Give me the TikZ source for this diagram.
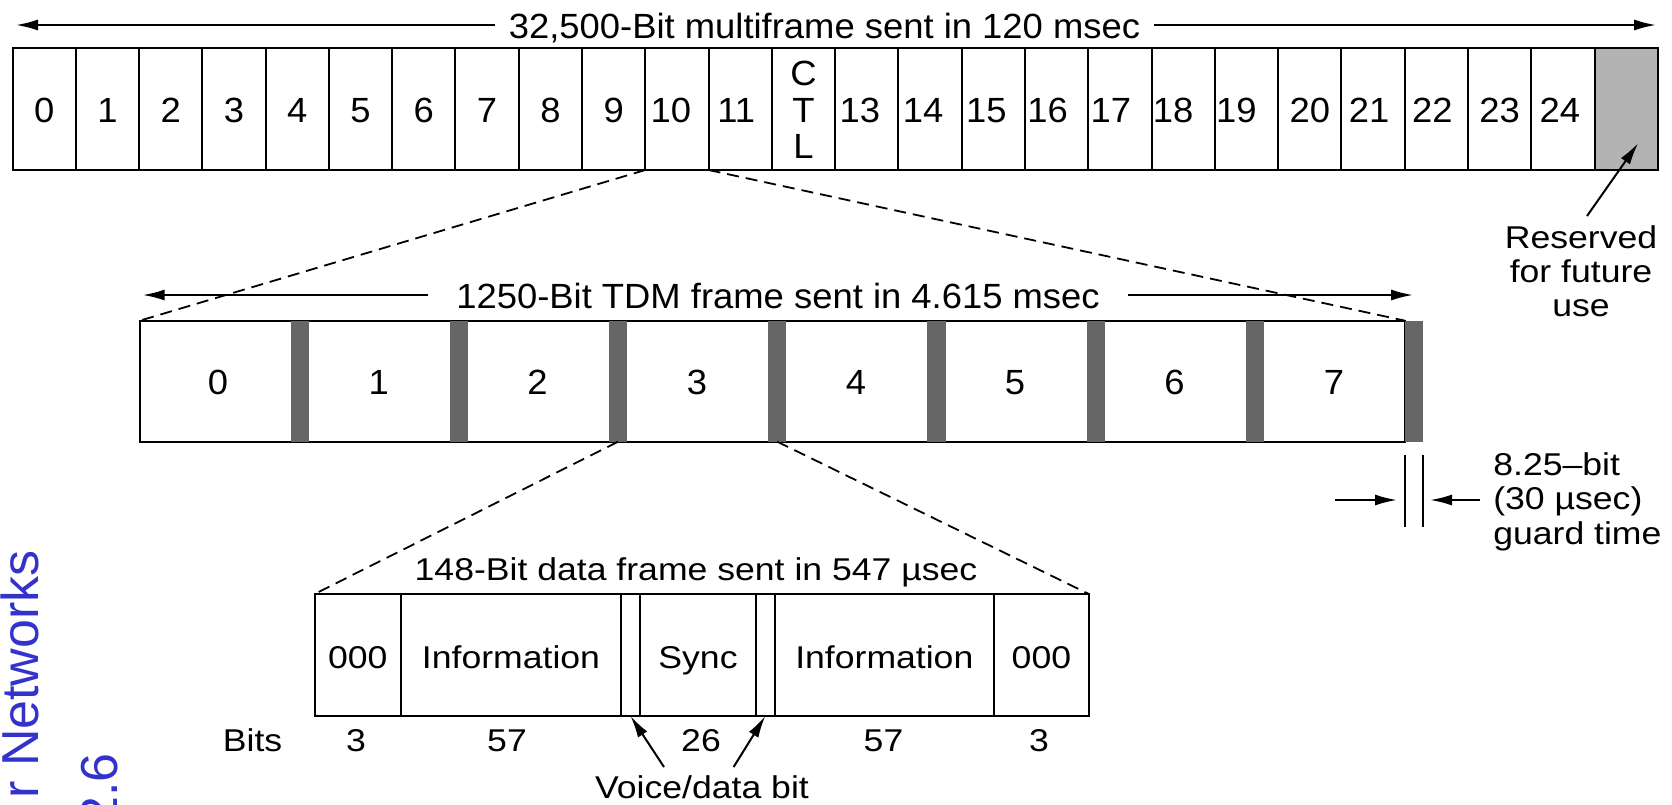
\documentclass[tikz,border=0pt]{standalone}
\usepackage{fontspec}
\setmainfont{Liberation Sans}[FakeStretch=1.04]
\newfontfamily\fontB{Liberation Sans}[FakeStretch=1.13,Ligatures=TeX]
\newfontfamily\bluefont{Liberation Sans}
\usetikzlibrary{arrows.meta,calc}
\definecolor{resgray}{HTML}{B3B3B3}
\definecolor{bargray}{HTML}{666666}
\definecolor{slideblue}{HTML}{3333CC}
\begin{document}
\begin{tikzpicture}[x=1pt,y=-1pt,
  lbl/.style={font=\fontsize{35}{38}\selectfont, inner sep=0pt, outer sep=0pt, anchor=base},
  lblb/.style={font=\fontB\fontsize{31.5}{34}\selectfont, inner sep=0pt, outer sep=0pt, anchor=base},
  cell/.style={draw, line width=2pt, minimum width=63.28pt, minimum height=121.7pt, inner sep=0pt, outer sep=0pt, anchor=north west},
  bcell/.style={draw, line width=2pt, minimum height=122pt, inner sep=0pt, outer sep=0pt, anchor=north west},
  gbar/.style={fill=bargray, minimum width=18.3pt, minimum height=121pt, inner sep=0pt, outer sep=0pt, anchor=north west},
  arr/.style={line width=2pt, -{Latex[length=22pt,width=11pt]}},
  dashline/.style={line width=1.8pt, dash pattern=on 12pt off 7pt},
  blue/.style={rotate=90, anchor=base east, font=\bluefont\fontsize{52}{56}\selectfont, text=slideblue, inner sep=0pt}
]
\useasboundingbox (0,0) rectangle (1672,804);
\fill[white] (0,0) rectangle (1672,804);

% ---------- top multiframe ----------
\foreach \i in {0,...,24}
  \node[cell] (c\i) at ({12.5+\i*63.28},48.3) {};
\node[cell, fill=resgray] (c25) at ({12.5+25*63.28},48.3) {};
\foreach \i/\dx in {0/0,1/0,2/0,3/0,4/0,5/0,6/0,7/0,8/0,9/0,10/-6,11/-4,13/-7,14/-7,15/-7,16/-9,17/-9,18/-10,19/-10,20/0,21/-4,22/-4,23/0,24/-3}
  \node[lbl] (n\i) at ($(c\i.center)+(\dx,12.9)$) {\i};
\node[lbl] (ctlC) at ($(c12.center)+(0,-23.2)$) {C};
\node[lbl] (ctlT) at ($(c12.center)+(0,12.9)$) {T};
\node[lbl] (ctlL) at ($(c12.center)+(0,48.9)$) {L};

\node[lbl, inner xsep=14pt] (t1) at (824.5,38) {32,500-Bit multiframe sent in 120 msec};
\coordinate (t1L) at (16,25);
\coordinate (t1R) at (1656,25);
\draw[arr] (t1.west |- t1L) -- (t1L);
\draw[arr] (t1.east |- t1R) -- (t1R);

% reserved
\node[lblb] (r1) at (1581,248) {Reserved};
\node[lblb] (r2) at (1581,282) {for future};
\node[lblb] (r3) at (1581,316) {use};
\coordinate (rtail) at (1587,216);
\draw[arr] (rtail) -- ($(c25.center)+(12,34)$);

% ---------- middle TDM frame ----------
\node[draw, line width=2pt, minimum width=1265.3pt, minimum height=121pt, inner sep=0pt, outer sep=0pt, anchor=north west] (mf) at (139.7,320.7) {};
\foreach \i in {0,...,7}
  \node[gbar] (g\i) at ({290.5+\i*159.2},320.7) {};
\foreach \x [count=\k from 0] in {218,378.7,537.5,697,856,1015,1174.6,1334}
  \node[lbl] (m\k) at (\x,394) {\k};

\node[lbl, inner xsep=28pt] (t2) at (778,308) {1250-Bit TDM frame sent in 4.615 msec};
\coordinate (t2L) at (142.7,295);
\coordinate (t2R) at (1413,295);
\draw[arr] (t2.west |- t2L) -- (t2L);
\draw[arr] (t2.east |- t2R) -- (t2R);

\draw[dashline] (c10.south west) -- (mf.north west);
\draw[dashline] (c10.south east) -- (mf.north east);

% guard time
\coordinate (gtop) at (0,455);
\coordinate (gbot) at (0,527);
\draw[line width=2pt] (g7.south west |- gtop) -- (g7.south west |- gbot);
\draw[line width=2pt] (g7.south east |- gtop) -- (g7.south east |- gbot);
\coordinate (gaL) at (1335,500);
\coordinate (gaLt) at (1397,500);
\coordinate (gaR) at (1480,500);
\coordinate (gaRt) at (1430,500);
\draw[arr] (gaL) -- (gaLt);
\draw[arr] (gaR) -- (gaRt);
\node[lblb, anchor=base west] (gt1) at (1493.3,475) {8.25–bit};
\node[lblb, anchor=base west] (gt2) at (1493.3,509.5) {(30 µsec)};
\node[lblb, anchor=base west] (gt3) at (1493.3,544) {guard time};

% ---------- bottom data frame ----------
\node[bcell, minimum width=86.4pt] (b1) at (314.6,594) {};
\node[bcell, minimum width=220pt] (b2) at (401,594) {};
\node[bcell, minimum width=19pt] (v1) at (621,594) {};
\node[bcell, minimum width=116pt] (b3) at (640,594) {};
\node[bcell, minimum width=18.6pt] (v2) at (756,594) {};
\node[bcell, minimum width=219.4pt] (b4) at (774.6,594) {};
\node[bcell, minimum width=94.8pt] (b5) at (994,594) {};
\node[lblb] (l1) at (b1.center |- 0,668) {000};
\node[lblb] (l2) at (b2.center |- 0,668) {Information};
\node[lblb] (l3) at (b3.center |- 0,668) {Sync};
\node[lblb] (l4) at (b4.center |- 0,668) {Information};
\node[lblb] (l5) at (b5.center |- 0,668) {000};

\node[lblb] (t3) at (696,580) {148-Bit data frame sent in 547 µsec};
\draw[dashline] (g2.south) -- (b1.north west);
\draw[dashline] (g3.south) -- (b5.north east);

\node[lblb] (bits) at (252.6,751.7) {Bits};
\node[lblb] (k1) at (356,751.7) {3};
\node[lblb] (k2) at (507,751.7) {57};
\node[lblb] (k3) at (701,751.7) {26};
\node[lblb] (k4) at (883.5,751.7) {57};
\node[lblb] (k5) at (1039,751.7) {3};

\node[lblb] (vd) at (702,798) {Voice/data bit};
\coordinate (vt1) at (664,767);
\coordinate (vt2) at (733.6,767);
\draw[arr] (vt1) -- (v1.south);
\draw[arr] (vt2) -- (v2.south);

% ---------- blue side text ----------
\begin{scope}
\clip (0,0) rectangle (1672,804);
\node[blue] (bl1) at (38.3,550) {r Networks};
\node[blue] (bl2) at (117,753) {2.6};
\end{scope}
\end{tikzpicture}
\end{document}
